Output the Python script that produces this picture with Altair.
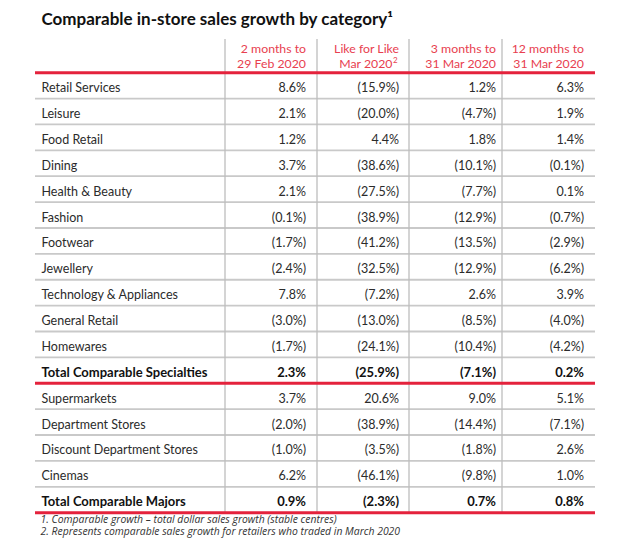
import altair as alt
import pandas as pd

# ---------------- data ----------------
title = "Comparable in-store sales growth by category\u00b9"
headers_line1 = ["2 months to", "Like for Like", "3 months to", "12 months to"]
headers_line2 = ["29 Feb 2020", "Mar 2020", "31 Mar 2020", "31 Mar 2020"]
header_marks = ["", "2", "", ""]
categories = [
    "Retail Services", "Leisure", "Food Retail", "Dining", "Health & Beauty",
    "Fashion", "Footwear", "Jewellery", "Technology & Appliances", "General Retail",
    "Homewares", "Total Comparable Specialties", "Supermarkets", "Department Stores",
    "Discount Department Stores", "Cinemas", "Total Comparable Majors",
]
feb_2m = [8.6, 2.1, 1.2, 3.7, 2.1, -0.1, -1.7, -2.4, 7.8, -3.0, -1.7, 2.3, 3.7, -2.0, -1.0, 6.2, 0.9]
lfl_mar = [-15.9, -20.0, 4.4, -38.6, -27.5, -38.9, -41.2, -32.5, -7.2, -13.0, -24.1, -25.9, 20.6, -38.9, -3.5, -46.1, -2.3]
mar_3m = [1.2, -4.7, 1.8, -10.1, -7.7, -12.9, -13.5, -12.9, 2.6, -8.5, -10.4, -7.1, 9.0, -14.4, -1.8, -9.8, 0.7]
mar_12m = [6.3, 1.9, 1.4, -0.1, 0.1, -0.7, -2.9, -6.2, 3.9, -4.0, -4.2, 0.2, 5.1, -7.1, 2.6, 1.0, 0.8]
total_rows = ["Total Comparable Specialties", "Total Comparable Majors"]
footnotes = [
    "1. Comparable growth \u2013 total dollar sales growth (stable centres)",
    "2. Represents comparable sales growth for retailers who traded in March 2020",
]

# ---------------- layout ----------------
FONT = "Lato"
RED = "#e4223c"
HEAD_RED = "#e8404f"
GREY = "#c9c9c9"
TEXT = "#2b2b2b"
LEFT, RIGHT = 35, 595
TOP = 72.7
ROW_H = 25.88
DIVIDERS = [225, 317, 409, 502]
COL_RIGHT = [306, 399, 496, 584]
LABEL_X = 41.5
W, H = 614, 526

def fmt(v):
    return f"({abs(v):.1f}%)" if v < 0 else f"{v:.1f}%"

series = [feb_2m, lfl_mar, mar_3m, mar_12m]
n = len(categories)

cells = []
for i, cat in enumerate(categories):
    yc = TOP + (i + 0.5) * ROW_H + 2.5
    bold = cat in total_rows
    cells.append({"x": LABEL_X, "y": yc, "t": cat, "bold": bold, "side": "left"})
    for j, s in enumerate(series):
        cells.append({"x": COL_RIGHT[j], "y": yc, "t": fmt(s[i]), "bold": bold, "side": "right"})
cells = pd.DataFrame(cells)

heads = []
marks = []
for j in range(4):
    shift = 6.5 if header_marks[j] else 0
    heads.append({"x": COL_RIGHT[j], "y": 49, "t": headers_line1[j]})
    heads.append({"x": COL_RIGHT[j] - shift, "y": 63.5, "t": headers_line2[j]})
    if header_marks[j]:
        marks.append({"x": COL_RIGHT[j] - shift + 0.5, "y": 60.5, "t": header_marks[j]})
heads = pd.DataFrame(heads)
marks = pd.DataFrame(marks)

hlines = []
for k in range(n + 1):
    red = k == 0 or (k >= 1 and categories[k - 1] in total_rows)
    hlines.append({"x": LEFT, "x2": RIGHT, "y": TOP + k * ROW_H, "red": red})
hlines = pd.DataFrame(hlines)
grey_lines = hlines[~hlines["red"]]
red_lines = hlines[hlines["red"]]

vlines = pd.DataFrame({"x": DIVIDERS, "y": [39] * 4, "y2": [TOP + n * ROW_H] * 4})

foot = pd.DataFrame({"x": [40.5] * 2, "y": [520.3, 532.2], "t": footnotes})
title_df = pd.DataFrame({"x": [LABEL_X], "y": [19.5], "t": [title]})

xs = alt.Scale(domain=[8, 8 + W])
ys = alt.Scale(domain=[8, 8 + H], reverse=True)
X = alt.X("x:Q", scale=xs, axis=None)
Y = alt.Y("y:Q", scale=ys, axis=None)

grey_layer = alt.Chart(grey_lines).mark_rule(color=GREY, strokeWidth=1.8).encode(x=X, x2="x2:Q", y=Y)
vline_layer = alt.Chart(vlines).mark_rule(color="#bdbdbd", strokeWidth=1.3).encode(x=X, y=Y, y2="y2:Q")
red_layer = alt.Chart(red_lines).mark_rule(color=RED, strokeWidth=3).encode(x=X, x2="x2:Q", y=Y)

is_left = cells["side"] == "left"
is_bold = cells["bold"]
left_txt = alt.Chart(cells[is_left & ~is_bold]).mark_text(
    align="left", baseline="middle", font=FONT, fontSize=12.5, color=TEXT).encode(x=X, y=Y, text="t:N")
right_txt = alt.Chart(cells[~is_left & ~is_bold]).mark_text(
    align="right", baseline="middle", font=FONT, fontSize=12.5, color=TEXT).encode(x=X, y=Y, text="t:N")
left_bold = alt.Chart(cells[is_left & is_bold]).mark_text(
    align="left", baseline="middle", font=FONT, fontSize=13, fontWeight="bold", color="#111").encode(x=X, y=Y, text="t:N")
right_bold = alt.Chart(cells[~is_left & is_bold]).mark_text(
    align="right", baseline="middle", font=FONT, fontSize=13, fontWeight="bold", color="#111").encode(x=X, y=Y, text="t:N")
head_txt = alt.Chart(heads).mark_text(
    align="right", baseline="middle", font=FONT, fontSize=12.3, color=HEAD_RED).encode(x=X, y=Y, text="t:N")
mark_txt = alt.Chart(marks).mark_text(
    align="left", baseline="middle", font=FONT, fontSize=8, color=HEAD_RED).encode(x=X, y=Y, text="t:N")
title_txt = alt.Chart(title_df).mark_text(
    align="left", baseline="middle", font=FONT, fontSize=17, fontWeight="bold", color="#111").encode(x=X, y=Y, text="t:N")
foot_txt = alt.Chart(foot).mark_text(
    align="left", baseline="middle", font="Open Sans", fontSize=10.4, fontStyle="italic", color="#333").encode(x=X, y=Y, text="t:N")

chart = alt.layer(
    grey_layer, vline_layer, red_layer, left_txt, right_txt, left_bold, right_bold,
    head_txt, mark_txt, title_txt, foot_txt,
).properties(width=W, height=H, padding=0).configure_view(stroke=None)

chart.save("out.html", embed_options={"renderer": "svg", "actions": False})
